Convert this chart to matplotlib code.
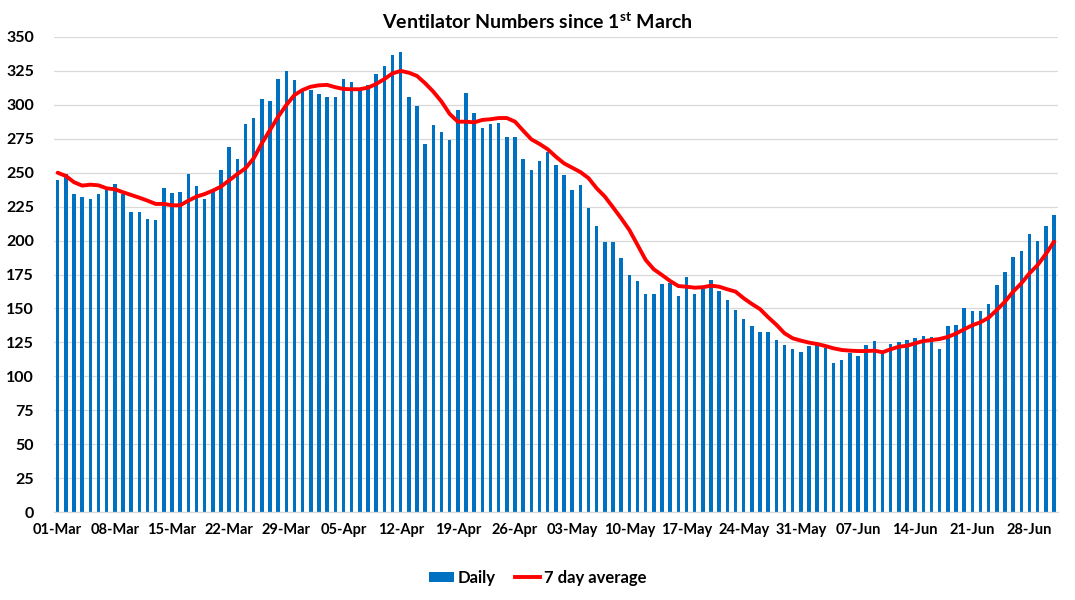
import pandas as pd
import matplotlib.pyplot as plt
from matplotlib.patches import Patch
from matplotlib.lines import Line2D

plt.rcParams['font.family'] = ['Lato', 'DejaVu Sans']
plt.rcParams['font.weight'] = 'bold'
plt.rcParams['mathtext.fontset'] = 'custom'
plt.rcParams['mathtext.rm'] = 'Lato:bold'
plt.rcParams['mathtext.it'] = 'Lato:bold'
plt.rcParams['mathtext.bf'] = 'Lato:bold'

# =========================
# Data
# =========================
start_date = "2020-03-01"

daily = [
    245, 249, 234, 232, 231, 234, 237, 242, 234, 221, 221, 216, 215, 239, 235, 236,
    249, 240, 231, 237, 252, 269, 260,
    286, 290, 304, 303, 319, 325, 318, 311, 311, 308, 306, 306, 319, 317, 310, 315,
    323, 329, 337, 339, 306, 299,
    271, 285, 280, 274, 296, 309, 294, 283, 286, 287, 276, 276, 260, 252, 259, 265,
    256, 248, 237, 241, 224, 211,
    199, 199, 187, 175, 170, 161, 161, 168, 169, 159, 173, 161, 164, 171, 163, 156,
    149, 142, 137, 133, 133, 127,
    123, 120, 118, 122, 123, 121, 110, 112, 117, 115, 123, 126, 117, 124, 125, 127,
    128, 130, 129, 120, 137, 138,
    150, 148, 148, 153, 167, 177, 188, 192, 205, 200, 211, 219,
]

avg7 = [
    250.0, 247.6, 243.0, 240.5, 241.2, 240.7, 238.5, 237.8, 235.6, 233.6, 231.6, 229.4,
    227.0, 227.0, 226.0, 226.0, 229.4, 232.4, 234.3, 236.8, 239.8, 244.4, 249.0,
    253.3, 260.6, 271.7, 281.5, 291.3, 299.9, 307.3, 311.0, 313.4, 314.4, 314.7, 313.0,
    311.7, 311.5, 311.5, 312.7, 315.4, 319.0, 323.2, 325.0, 323.7, 321.3,
    315.9, 309.7, 302.4, 293.3, 287.6, 287.6, 287.1, 288.9, 289.4, 290.3, 290.3, 287.6,
    281.0, 274.6, 271.2, 267.3, 261.8, 256.9, 253.7, 250.5, 246.0, 238.5,
    232.4, 224.5, 216.4, 207.8, 196.8, 185.7, 178.8, 174.6, 170.2, 166.5, 166.0, 165.3,
    165.6, 166.8, 166.0, 164.1, 162.4, 157.5, 153.3, 149.5, 143.5, 138.0,
    131.7, 128.0, 126.3, 124.8, 123.8, 122.3, 120.6, 119.4, 118.9, 118.6, 118.6, 118.9,
    117.7, 119.9, 121.8, 122.5, 124.3, 126.0, 126.7, 127.5, 129.0, 131.5,
    134.6, 137.6, 139.8, 143.2, 148.9, 155.0, 162.4, 168.5, 175.9, 182.0, 190.1, 199.2,
]

dates = pd.date_range(start_date, periods=len(daily), freq="D")
x = list(range(len(daily)))
tick_pos = x[::7]
tick_labels = [d.strftime("%d-%b") for d in dates[::7]]

# =========================
# Plot
# =========================
fig = plt.figure(figsize=(10.75, 6), dpi=100)
ax = fig.add_axes([53.6 / 1075, 88 / 600, (1058.1 - 53.6) / 1075, 475 / 600])

ax.bar(x, daily, width=0.42, color="#0070C0", zorder=2)
ax.plot(x, avg7, color="#FF0000", linewidth=2.8, zorder=3, solid_capstyle="round")

ax.set_xlim(-0.5, len(daily) - 0.5)
ax.set_ylim(0, 350)
ax.set_yticks(range(0, 351, 25))
ax.set_xticks(tick_pos)
ax.set_xticklabels(tick_labels)
ax.tick_params(axis="y", length=0, pad=14, labelsize=11.5)
ax.tick_params(axis="x", length=0, pad=8, labelsize=10.5)

ax.grid(axis="y", color="#D9D9D9", linewidth=0.9, zorder=0)
for side in ["top", "right", "left"]:
    ax.spines[side].set_visible(False)
ax.spines["bottom"].set_color("#D9D9D9")
ax.spines["bottom"].set_linewidth(0.9)

fig.text(0.5, 0.963, r"Ventilator Numbers since 1$^{\mathrm{st}}$ March",
         ha="center", va="center", fontsize=14, fontweight="bold")

handles = [
    Patch(facecolor="#0070C0", edgecolor="none"),
    Line2D([0], [0], color="#FF0000", linewidth=2.8),
]
fig.legend(handles, ["Daily", "7 day average"], loc="center",
           bbox_to_anchor=(0.5, 0.037), ncol=2, frameon=False,
           fontsize=12, handlelength=1.5, handleheight=0.6,
           handletextpad=0.2, columnspacing=1.2)

plt.savefig("out.png", dpi=100)
